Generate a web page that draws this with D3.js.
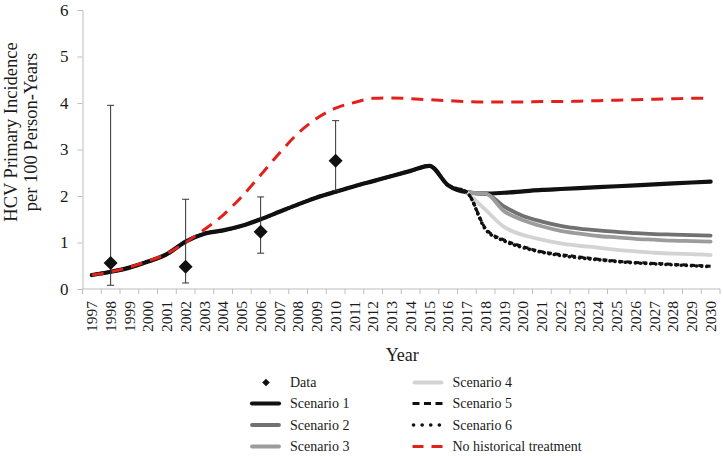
<!DOCTYPE html>
<html><head><meta charset="utf-8">
<script src="https://cdn.jsdelivr.net/npm/d3@7"></script>
<style>
html,body{margin:0;padding:0;background:#fff;}
svg{display:block;}
text{font-family:"Liberation Serif","Times New Roman",serif;fill:#1a1a1a;}
</style></head>
<body><svg id="chart" width="723" height="456"></svg>
<script>
const years = ["1997","1998","1999","2000","2001","2002","2003","2004","2005","2006","2007","2008","2009","2010","2011","2012","2013","2014","2015","2016","2017","2018","2019","2020","2021","2022","2023","2024","2025","2026","2027","2028","2029","2030"];
const yTicks = [0,1,2,3,4,5,6];

// observed data with 95% intervals
const dataYears = ["1998","2002","2006","2010"];
const dataValues = [0.56, 0.48, 1.23, 2.76];
const dataLow = [0.08, 0.13, 0.77, 2.12];
const dataHigh = [3.95, 1.93, 1.98, 3.62];

// modelled history 1997-2017
const historyYears = years.slice(0, 21);
const historyValues = [0.30,0.37,0.46,0.59,0.75,1.02,1.19,1.26,1.36,1.50,1.66,1.82,1.97,2.09,2.21,2.32,2.43,2.54,2.65,2.23,2.08];

// projections
const futureYears = years.slice(21);            // 2018-2030
const branchYears = years.slice(20);            // 2017-2030
const scenario1 = [2.05,2.07,2.10,2.13,2.15,2.17,2.19,2.21,2.23,2.25,2.27,2.29,2.31];
const scenario2 = [2.07,2.05,1.77,1.57,1.45,1.36,1.30,1.26,1.23,1.20,1.18,1.17,1.16,1.15];
const scenario3 = [2.07,2.05,1.67,1.48,1.35,1.25,1.19,1.14,1.11,1.08,1.06,1.04,1.03,1.02];
const scenario4 = [2.08,1.70,1.33,1.16,1.06,0.98,0.93,0.89,0.84,0.81,0.78,0.76,0.75,0.73];
const scenario5 = [1.30,1.05,0.91,0.80,0.74,0.69,0.64,0.60,0.57,0.55,0.53,0.51,0.49];
const scenario6 = [1.28,1.03,0.89,0.79,0.72,0.67,0.63,0.59,0.56,0.54,0.52,0.50,0.48];
const noTreatment = [0.30,0.37,0.47,0.60,0.76,1.00,1.28,1.59,1.99,2.45,2.92,3.35,3.67,3.89,4.01,4.10,4.11,4.09,4.07,4.05,4.03,4.02,4.02,4.02,4.03,4.03,4.04,4.05,4.06,4.07,4.08,4.09,4.10,4.10];

const svg = d3.select("#chart");
const plotL = 82.5, plotR = 720, plotT = 10, plotB = 289;

const x = d3.scaleBand().domain(years).range([plotL, plotR]).padding(0);
const y = d3.scaleLinear().domain([0, 6]).range([plotB, plotT]);
const cx = yr => x(yr) + x.bandwidth() / 2;

// axes
const axisColor = "#bdbdbd";
const yAxis = svg.append("g").attr("transform", `translate(${plotL},0)`)
  .call(d3.axisLeft(y).tickValues(yTicks).tickSize(5).tickPadding(9).tickFormat(d3.format("d")));
yAxis.select(".domain").attr("stroke", axisColor);
yAxis.selectAll(".tick line").attr("stroke", axisColor);
yAxis.selectAll("text").attr("font-size", 17).attr("fill", "#1a1a1a");

const xAxis = svg.append("g").attr("transform", `translate(0,${plotB})`)
  .call(d3.axisBottom(x).tickSize(0).tickSizeOuter(0));
xAxis.select(".domain").attr("stroke", axisColor).attr("d", `M${plotL},0H${plotR}`);
xAxis.selectAll(".tick line").remove();
xAxis.selectAll(".tick text")
  .attr("font-size", 15.5)
  .attr("text-anchor", "end")
  .attr("transform", "rotate(-90)")
  .attr("x", -12).attr("y", 0).attr("dy", "0.34em");
// tick marks on band boundaries
const boundaries = years.map(yr => x(yr)).concat([plotR]);
svg.append("g").selectAll("line").data(boundaries).join("line")
  .attr("x1", d => d).attr("x2", d => d)
  .attr("y1", plotB).attr("y2", plotB + 5)
  .attr("stroke", axisColor);

// axis titles
svg.append("text").attr("x", (plotL + plotR) / 2 + 1).attr("y", 361)
  .attr("text-anchor", "middle").attr("font-size", 18).text("Year");
const yt = svg.append("text").attr("transform", "translate(0,132) rotate(-90)")
  .attr("text-anchor", "middle").attr("font-size", 18.5);
yt.append("tspan").attr("x", 0).attr("y", 16.5).text("HCV Primary Incidence");
yt.append("tspan").attr("x", 0).attr("y", 36.5).text("per 100 Person-Years");

const line = d3.line().x(d => cx(d[0])).y(d => y(d[1])).curve(d3.curveMonotoneX);
const zipS = (ys, vs) => ys.map((yr, i) => [yr, vs[i]]);

const styles = {
  s1: {stroke: "#111", width: 4.2, dash: null, cap: "round"},
  s2: {stroke: "#717171", width: 3.8, dash: null, cap: "round"},
  s3: {stroke: "#9c9c9c", width: 3.8, dash: null, cap: "round"},
  s4: {stroke: "#d3d3d3", width: 3.8, dash: null, cap: "round"},
  s5: {stroke: "#111", width: 3, dash: "5 3", cap: "butt"},
  s6: {stroke: "#111", width: 3.6, dash: "0.1 5", cap: "round"},
  red: {stroke: "#e3211c", width: 3, dash: "12 8", cap: "butt"}
};
function draw(pts, st) {
  svg.append("path").datum(pts).attr("d", line)
    .attr("fill", "none").attr("stroke", st.stroke).attr("stroke-width", st.width)
    .attr("stroke-dasharray", st.dash).attr("stroke-linecap", st.cap)
    .attr("stroke-linejoin", "round");
}

const hist = zipS(historyYears, historyValues);
draw(hist.concat(zipS(futureYears, scenario1)), styles.s1);
draw(zipS(branchYears, scenario2), styles.s2);
draw(zipS(branchYears, scenario3), styles.s3);
draw(zipS(branchYears, scenario4), styles.s4);
draw(hist.concat(zipS(futureYears, scenario5)), styles.s5);
draw(hist.concat(zipS(futureYears, scenario6)), styles.s6);
draw(zipS(years, noTreatment), styles.red);

// data points with error bars
const dg = svg.append("g");
dataYears.forEach((yr, i) => {
  const px = cx(yr);
  dg.append("line").attr("x1", px).attr("x2", px).attr("y1", y(dataLow[i])).attr("y2", y(dataHigh[i]))
    .attr("stroke", "#333").attr("stroke-width", 1);
  [dataLow[i], dataHigh[i]].forEach(v => dg.append("line")
    .attr("x1", px - 3.5).attr("x2", px + 3.5).attr("y1", y(v)).attr("y2", y(v))
    .attr("stroke", "#333").attr("stroke-width", 1));
  const py = y(dataValues[i]), r = 7;
  dg.append("path").attr("d", `M${px},${py - r}L${px + r},${py}L${px},${py + r}L${px - r},${py}Z`)
    .attr("fill", "#111");
});

// legend
const legend = [
  {label: "Data", type: "diamond", col: 0, row: 0},
  {label: "Scenario 1", st: styles.s1, col: 0, row: 1, dash: null},
  {label: "Scenario 2", st: styles.s2, col: 0, row: 2, dash: null},
  {label: "Scenario 3", st: styles.s3, col: 0, row: 3, dash: null},
  {label: "Scenario 4", st: styles.s4, col: 1, row: 0, dash: null},
  {label: "Scenario 5", st: styles.s5, col: 1, row: 1, dash: "7 4.5"},
  {label: "Scenario 6", st: styles.s6, col: 1, row: 2, dash: "0.1 8.5"},
  {label: "No historical treatment", st: styles.red, col: 1, row: 3, dash: "11 8"}
];
const colX = [250, 412.5], rowY = [382.5, 403.5, 425, 446.5];
const lg = svg.append("g");
legend.forEach(d => {
  const x0 = colX[d.col], yy = rowY[d.row];
  if (d.type === "diamond") {
    const c = x0 + 16, r = 3.8;
    lg.append("path").attr("d", `M${c},${yy - r}L${c + r},${yy}L${c},${yy + r}L${c - r},${yy}Z`).attr("fill", "#111");
  } else {
    const pad = d.st.cap === "round" ? (d.dash ? 1 : 2) : 0;
    lg.append("line").attr("x1", x0 + pad).attr("x2", x0 + 31 - pad).attr("y1", yy).attr("y2", yy)
      .attr("stroke", d.st.stroke).attr("stroke-width", d.st.width)
      .attr("stroke-dasharray", d.dash).attr("stroke-linecap", d.st.cap);
  }
  lg.append("text").attr("x", x0 + 40).attr("y", yy).attr("dy", "0.33em")
    .attr("font-size", 14).text(d.label);
});
</script></body></html>
